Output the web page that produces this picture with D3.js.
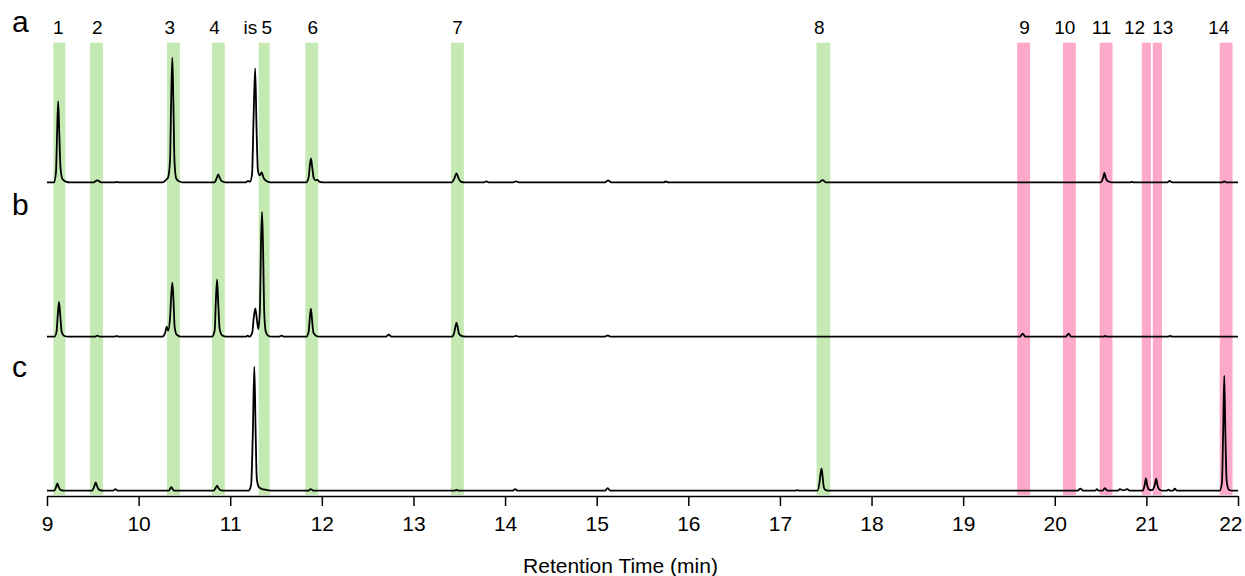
<!DOCTYPE html>
<meta charset="utf-8">
<style>
  body { margin: 0; background: #fff; }
  svg { display: block; font-family: "Liberation Sans", Arial, sans-serif; }
  .axis path, .axis line { stroke: #000; stroke-width: 1.5px; }
  .axis text { font-size: 21px; fill: #000; }
  .trace { fill: none; stroke: #000; stroke-width: 1.8px; stroke-linejoin: round; }
</style>
<body></body>
<script src="https://d3js.org/d3.v7.min.js"></script>
<script>

// marker windows (min) and labels
var bandNames  = ["1", "2", "3", "4", "5", "6", "7", "8", "9", "10", "11", "12", "13", "14"];
var bandStart  = [9.07, 9.47, 10.31, 10.80, 11.31, 11.82, 13.41, 17.40, 19.59, 20.09, 20.49, 20.95, 21.07, 21.80];
var bandEnd    = [9.20, 9.61, 10.45, 10.94, 11.43, 11.96, 13.55, 17.55, 19.73, 20.23, 20.63, 21.05, 21.17, 21.94];
var bandGroup  = ["g", "g", "g", "g", "g", "g", "g", "g", "p", "p", "p", "p", "p", "p"];

var peakLabels = ["1", "2", "3", "4", "is", "5", "6", "7", "8", "9", "10", "11", "12", "13", "14"];
var labelTimes = [9.123, 9.55, 10.34, 10.83, 11.22, 11.40, 11.90, 13.48, 17.43, 19.67, 20.11, 20.51, 20.87, 21.18, 21.79];

var xTicks = [9, 10, 11, 12, 13, 14, 15, 16, 17, 18, 19, 20, 21, 22];
var panelNames = ["a", "b", "c"];

// traces: [time (min), signal]
var traceA = [
  [9.00,0],[9.075,0],[9.098,10],[9.111,52],[9.122,81],[9.133,52],[9.148,14],[9.17,3],[9.21,0.5],[9.25,0],
  [9.51,0],[9.55,2],[9.59,0],
  [9.74,0],[9.76,0.5],[9.78,0],
  [10.26,0],[10.3,2.5],[10.322,5],[10.343,22],[10.356,85],[10.368,124.6],[10.379,82],[10.392,20],[10.41,4],[10.44,1],[10.48,0],
  [10.83,0],[10.855,5],[10.87,8],[10.885,4.5],[10.91,1],[10.95,0],
  [11.17,0],[11.195,1.5],[11.215,0.5],[11.238,8],[11.255,65],[11.272,114],[11.287,55],[11.302,12],[11.322,7],[11.343,10],[11.362,5],[11.39,1.5],[11.44,0],
  [11.83,0],[11.856,5],[11.869,17],[11.882,24],[11.895,15],[11.912,4],[11.935,2],[11.952,2.5],[11.975,0.5],[12.02,0],
  [13.42,0],[13.447,4],[13.47,9],[13.492,4],[13.52,0.5],[13.56,0],
  [13.77,0],[13.795,1],[13.82,0],
  [14.09,0],[14.12,1],[14.15,0],
  [15.09,0],[15.125,2],[15.16,0],
  [15.73,0],[15.755,0.8],[15.78,0],
  [17.43,0],[17.465,2.2],[17.5,0],
  [20.5,0],[20.526,4],[20.542,9.5],[20.557,4],[20.58,1],[20.62,0],
  [20.82,0],[20.84,0.5],[20.86,0],
  [21.23,0],[21.255,1.3],[21.28,0],
  [21.83,0],[21.85,1],[21.87,0],
  [22,0]
];

var traceB = [
  [9.00,0],[9.08,0],[9.104,5],[9.118,22],[9.131,34.7],[9.144,22],[9.16,5],[9.185,1],[9.23,0],
  [9.52,0],[9.55,1],[9.58,0],
  [9.73,0],[9.76,0.6],[9.79,0],
  [10.26,0],[10.29,4],[10.307,10],[10.322,6],[10.344,20],[10.357,42],[10.368,54],[10.38,38],[10.393,10],[10.415,2],[10.46,0],
  [10.8,0],[10.83,6],[10.843,35],[10.856,57.3],[10.869,34],[10.884,8],[10.91,1.5],[10.96,0],
  [11.17,0],[11.19,1],[11.21,0],[11.24,4],[11.258,20],[11.274,28.3],[11.29,18],[11.307,7.7],[11.325,30],[11.336,95],[11.347,124.7],[11.358,90],[11.371,25],[11.388,5],[11.415,1],[11.45,0],
  [11.53,0],[11.56,1],[11.59,0],
  [11.83,0],[11.856,5],[11.868,18],[11.88,28],[11.892,18],[11.908,4],[11.935,1],[11.98,0],
  [12.7,0],[12.73,2],[12.76,0],
  [13.42,0],[13.445,4],[13.458,10],[13.47,14],[13.482,10],[13.497,3],[13.53,0.5],[13.57,0],
  [14.09,0],[14.12,0.8],[14.15,0],
  [15.09,0],[15.12,1.2],[15.15,0],
  [19.62,0],[19.65,3],[19.68,0],
  [20.12,0],[20.15,3],[20.18,0],
  [20.53,0],[20.55,0.7],[20.57,0],
  [21.23,0],[21.26,0.7],[21.29,0],
  [22,0]
];

var traceC = [
  [9.00,0],[9.08,0],[9.1,4],[9.113,7.4],[9.126,4],[9.15,0.5],[9.19,0],
  [9.49,0],[9.515,4],[9.532,8.4],[9.548,4],[9.575,0.5],[9.61,0],
  [9.72,0],[9.746,1.5],[9.77,0],
  [10.33,0],[10.357,3.5],[10.385,0],
  [10.82,0],[10.842,3],[10.856,5],[10.872,2.5],[10.9,0.3],[10.94,0],
  [11.2,0],[11.228,6],[11.246,55],[11.263,124],[11.277,60],[11.29,12],[11.31,4],[11.34,2],[11.38,1],[11.45,0],
  [11.85,0],[11.879,1.5],[11.91,0],
  [13.44,0],[13.47,0.7],[13.5,0],
  [14.08,0],[14.11,1.5],[14.14,0],
  [15.09,0],[15.12,2.5],[15.15,0],
  [17.17,0],[17.19,0.5],[17.21,0],
  [17.41,0],[17.432,8],[17.445,18],[17.455,22],[17.466,14],[17.48,3],[17.5,0.5],[17.53,0],
  [20.25,0],[20.28,2],[20.31,0],
  [20.44,0],[20.46,1.5],[20.48,0],[20.52,0],[20.548,2.5],[20.575,0],
  [20.69,0],[20.71,1.5],[20.75,0.3],[20.79,1.5],[20.82,0],
  [20.96,0],[20.982,6],[20.995,12.4],[21.01,5],[21.03,1],[21.06,0.5],[21.092,6],[21.107,12],[21.122,5],[21.145,1],[21.18,0],
  [21.22,0],[21.24,1],[21.26,0],[21.29,0],[21.31,2],[21.335,0],
  [21.8,0],[21.825,8],[21.838,60],[21.85,115],[21.862,58],[21.876,10],[21.9,1],[21.94,0],
  [22,0]
];

var traces = [traceA, traceB, traceC];

// layout
var width = 1245, height = 576;
var axisY = 496;
var baselines = [182.3, 336.7, 490.7];
var letterY = [32, 215, 377];

var svg = d3.select("body").append("svg")
    .attr("width", width)
    .attr("height", height);

var x = d3.scaleLinear()
    .domain([9, 22])
    .range([47, 1238]);

// shaded marker windows
var colors = {g: "#c5e9b2", p: "#fea8ca"};
svg.selectAll("rect.band")
    .data(bandNames)
  .enter().append("rect")
    .attr("class", "band")
    .attr("x", function(d, i) { return x(bandStart[i]); })
    .attr("width", function(d, i) { return x(bandEnd[i]) - x(bandStart[i]); })
    .attr("y", 42.7)
    .attr("height", axisY - 1 - 42.7)
    .attr("fill", function(d, i) { return colors[bandGroup[i]]; });

// peak labels
svg.selectAll("text.peak")
    .data(peakLabels)
  .enter().append("text")
    .attr("class", "peak")
    .attr("x", function(d, i) { return x(labelTimes[i]); })
    .attr("y", 34)
    .attr("text-anchor", "middle")
    .style("font-size", "19px")
    .text(function(d) { return d; });

// chromatograms
traces.forEach(function(tr, k) {
  var y = d3.scaleLinear()
      .domain([0, 130])
      .range([baselines[k], baselines[k] - 130]);

  var line = d3.line()
      .x(function(d) { return x(d[0]); })
      .y(function(d) { return y(d[1]); })
      .curve(d3.curveMonotoneX);

  svg.append("path")
      .datum(tr)
      .attr("class", "trace")
      .attr("d", line);

  svg.append("text")
      .attr("x", 12)
      .attr("y", letterY[k])
      .style("font-size", "30px")
      .text(panelNames[k]);
});

// x axis
var xAxis = d3.axisBottom(x)
    .tickValues(xTicks)
    .tickFormat(d3.format("d"))
    .tickSize(10)
    .tickSizeOuter(0)
    .tickPadding(10);

var gx = svg.append("g")
    .attr("class", "axis")
    .attr("transform", "translate(0," + axisY + ")")
    .call(xAxis)
    .call(function(g) { g.selectAll("text").attr("font-family", null).attr("font-size", null); });

// last label sits inside the page edge
gx.selectAll(".tick text")
    .filter(function(d) { return d === 22; })
    .attr("text-anchor", "end")
    .attr("x", 4);

svg.append("text")
    .attr("x", x(15.26))
    .attr("y", 573)
    .attr("text-anchor", "middle")
    .style("font-size", "21px")
    .text("Retention Time (min)");

</script>
